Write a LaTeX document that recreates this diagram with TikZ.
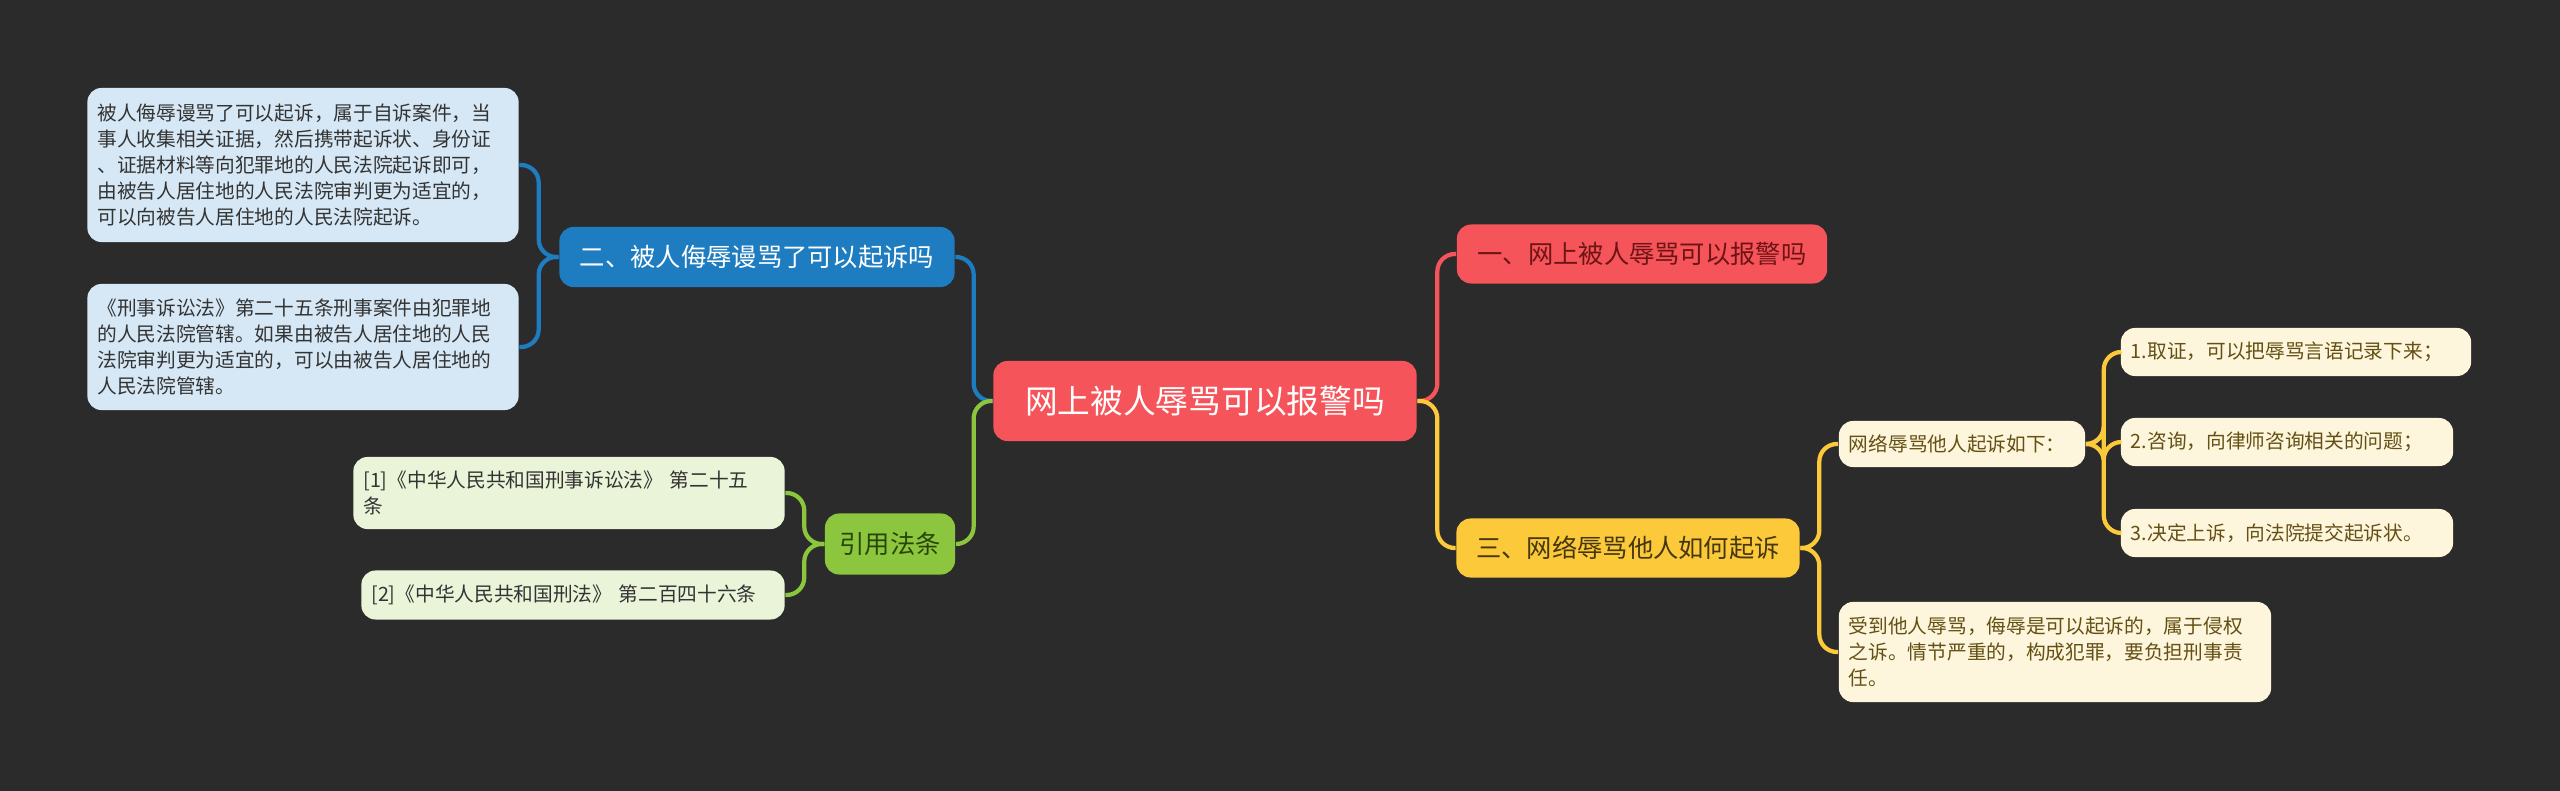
\documentclass[tikz,border=0pt]{standalone}
\usepackage{fontspec}
\setmainfont{Noto Sans CJK SC}
\usetikzlibrary{positioning}
\definecolor{bgdark}{RGB}{43,43,43}
\definecolor{rootred}{RGB}{245,84,90}
\definecolor{branchblue}{RGB}{30,124,192}
\definecolor{branchgreen}{RGB}{140,198,63}
\definecolor{branchyellow}{RGB}{252,201,59}
\definecolor{leafblue}{RGB}{214,232,245}
\definecolor{leafgreen}{RGB}{234,244,216}
\definecolor{leafyellow}{RGB}{253,246,220}
\definecolor{textred}{RGB}{110,20,20}
\definecolor{textgreen}{RGB}{40,70,10}
\definecolor{textbrown}{RGB}{100,80,20}

\begin{document}
\begin{tikzpicture}[
    x=0.01cm, y=-0.01cm,
    box/.style={rectangle, rounded corners=4pt, inner sep=0pt, align=left},
    root/.style={box, fill=rootred, text=white, font=\fontsize{9.3}{11}\selectfont},
    branch/.style={box, font=\fontsize{7.2}{9}\selectfont},
    leaf/.style={box, font=\fontsize{5.6}{7.4}\selectfont},
    link/.style={line width=1.2pt, rounded corners=5pt}
]
\fill[bgdark] (0,0) rectangle (2560,791);

% Root
\node[root, minimum width=4.23cm, minimum height=0.80cm] (root) at (1205,401) {网上被人辱骂可以报警吗};

% Left side
\node[branch, fill=branchblue, text=white, minimum width=3.95cm, minimum height=0.60cm] (sue) at (757,257) {二、被人侮辱谩骂了可以起诉吗};
\node[leaf, fill=leafblue, text=black!80, minimum width=4.31cm, minimum height=1.54cm, text width=4.11cm] (sueA) at (303,165)
    {被人侮辱谩骂了可以起诉，属于自诉案件，当\\事人收集相关证据，然后携带起诉状、身份证\\、证据材料等向犯罪地的人民法院起诉即可，\\由被告人居住地的人民法院审判更为适宜的，\\可以向被告人居住地的人民法院起诉。};
\node[leaf, fill=leafblue, text=black!80, minimum width=4.31cm, minimum height=1.26cm, text width=4.11cm] (sueB) at (303,347)
    {《刑事诉讼法》第二十五条刑事案件由犯罪地\\的人民法院管辖。如果由被告人居住地的人民\\法院审判更为适宜的，可以由被告人居住地的\\人民法院管辖。};

\node[branch, fill=branchgreen, text=textgreen, minimum width=1.30cm, minimum height=0.61cm, align=center] (law) at (890,544) {引用法条};
\node[leaf, fill=leafgreen, text=black!80, minimum width=4.31cm, minimum height=0.72cm, text width=4.11cm] (lawA) at (569,493)
    {[1]《中华人民共和国刑事诉讼法》 第二十五\\条};
\node[leaf, fill=leafgreen, text=black!80, minimum width=4.23cm, minimum height=0.49cm, text width=4.03cm] (lawB) at (573,595)
    {[2]《中华人民共和国刑法》 第二百四十六条};

% Right side
\node[branch, fill=rootred, text=textred, minimum width=3.70cm, minimum height=0.59cm, align=center] (police) at (1642,254) {一、网上被人辱骂可以报警吗};
\node[branch, fill=branchyellow, text=textbrown!70!black, minimum width=3.43cm, minimum height=0.59cm, align=center] (how) at (1628,548) {三、网络辱骂他人如何起诉};
\node[leaf, fill=leafyellow, text=textbrown, minimum width=2.46cm, minimum height=0.46cm, text width=2.26cm] (steps) at (1962,444) {网络辱骂他人起诉如下：};
\node[leaf, fill=leafyellow, text=textbrown, minimum width=3.50cm, minimum height=0.48cm, text width=3.30cm] (stepA) at (2296,352) {1.取证，可以把辱骂言语记录下来；};
\node[leaf, fill=leafyellow, text=textbrown, minimum width=3.32cm, minimum height=0.48cm, text width=3.12cm] (stepB) at (2287,442) {2.咨询，向律师咨询相关的问题；};
\node[leaf, fill=leafyellow, text=textbrown, minimum width=3.32cm, minimum height=0.48cm, text width=3.12cm] (stepC) at (2287,533) {3.决定上诉，向法院提交起诉状。};
\node[leaf, fill=leafyellow, text=textbrown, minimum width=4.32cm, minimum height=1.00cm, text width=4.12cm] (tort) at (2055,652)
    {受到他人辱骂，侮辱是可以起诉的，属于侵权\\之诉。情节严重的，构成犯罪，要负担刑事责\\任。};

% Links
\draw[link, branchblue] (root.west) -- ++(-19,0) |- (sue.east);
\draw[link, branchgreen] (root.west) -- ++(-19,0) |- (law.east);
\draw[link, branchblue] (sue.west) -- ++(-20,0) |- (sueA.east);
\draw[link, branchblue] (sue.west) -- ++(-20,0) |- (sueB.east);
\draw[link, branchgreen] (law.west) -- ++(-20,0) |- (lawA.east);
\draw[link, branchgreen] (law.west) -- ++(-20,0) |- (lawB.east);
\draw[link, rootred] (root.east) -- ++(20,0) |- (police.west);
\draw[link, branchyellow] (root.east) -- ++(20,0) |- (how.west);
\draw[link, branchyellow] (how.east) -- ++(19,0) |- (steps.west);
\draw[link, branchyellow] (how.east) -- ++(19,0) |- (tort.west);
\draw[link, branchyellow] (steps.east) -- ++(18,0) |- (stepA.west);
\draw[link, branchyellow] (steps.east) -- ++(18,0) |- (stepB.west);
\draw[link, branchyellow] (steps.east) -- ++(18,0) |- (stepC.west);
\end{tikzpicture}
\end{document}
